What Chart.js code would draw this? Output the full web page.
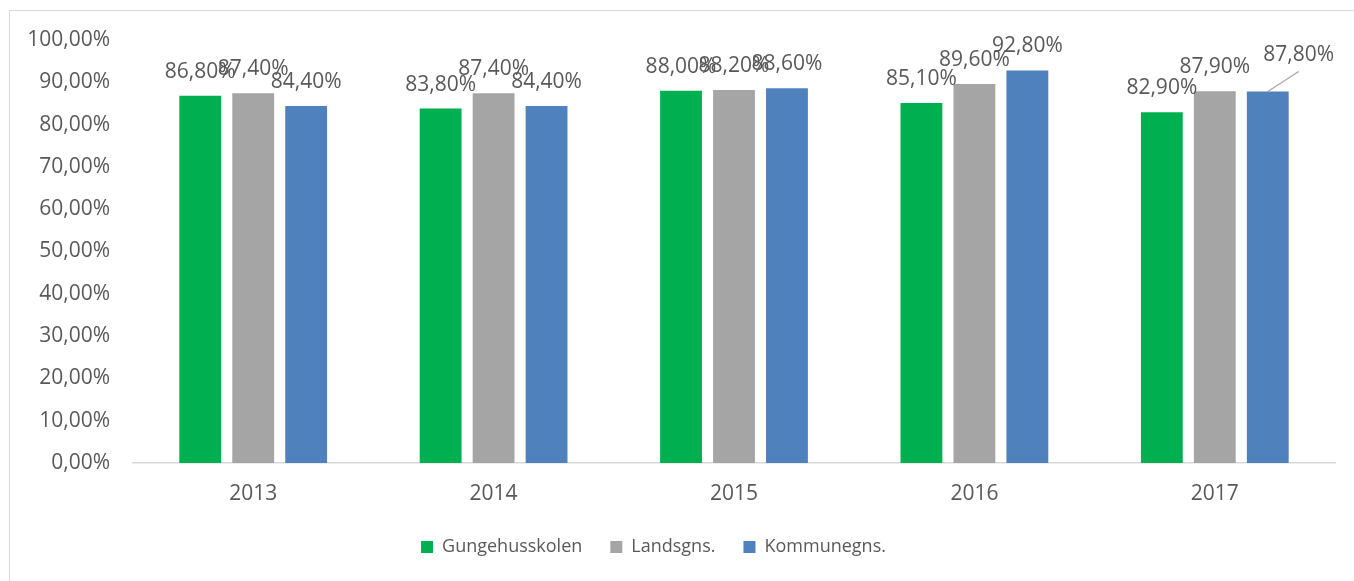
<!DOCTYPE html>
<html>
<head>
<meta charset="utf-8">
<script src="https://cdn.jsdelivr.net/npm/chart.js@4/dist/chart.umd.min.js"></script>
<style>
  html, body { margin: 0; padding: 0; background: #ffffff; }
  body { width: 1354px; height: 581px; position: relative; overflow: hidden; }
  #frame { position: absolute; left: 9px; top: 10px; width: 1400px; height: 640px; border: 1px solid #d9d9d9; box-sizing: border-box; }
  #wrap { position: absolute; left: 0; top: 0; width: 1354px; height: 581px; }
</style>
</head>
<body>
<div id="frame"></div>
<div id="wrap"><canvas id="c" width="1354" height="581"></canvas></div>
<script>
const categories = ['2013', '2014', '2015', '2016', '2017'];
const seriesNames = ['Gungehusskolen', 'Landsgns.', 'Kommunegns.'];
const gungehusskolen = [86.8, 83.8, 88.0, 85.1, 82.9];
const landsgns = [87.4, 87.4, 88.2, 89.6, 87.9];
const kommunegns = [84.4, 84.4, 88.6, 92.8, 87.8];
const yTickValues = [0, 10, 20, 30, 40, 50, 60, 70, 80, 90, 100];

const colors = ['#00b050', '#a5a5a5', '#4f81bd'];
const textColor = '#595959';
const fontFamily = "'Open Sans', 'DejaVu Sans', sans-serif";

function fmtPct(v) { return v.toFixed(2).replace('.', ',') + '%'; }

// Label adjustments (moved labels with leader line), kept separate from data
const labelMoves = [{ dataset: 2, index: 4, dx: 31, dy: -13 }];

const dataLabelPlugin = {
  id: 'dataLabels',
  afterDatasetsDraw(chart) {
    const ctx = chart.ctx;
    ctx.save();
    ctx.font = '21px ' + fontFamily;
    ctx.fillStyle = textColor;
    ctx.textAlign = 'center';
    ctx.textBaseline = 'alphabetic';
    chart.data.datasets.forEach((ds, di) => {
      const meta = chart.getDatasetMeta(di);
      meta.data.forEach((bar, i) => {
        const v = ds.data[i];
        const mv = labelMoves.find(m => m.dataset === di && m.index === i);
        let x = bar.x, y = bar.y - 18;
        if (mv) {
          x += mv.dx; y += mv.dy;
          ctx.save();
          ctx.strokeStyle = '#a6a6a6';
          ctx.lineWidth = 1.2;
          ctx.beginPath();
          ctx.moveTo(bar.x, bar.y);
          ctx.lineTo(x, y + 11);
          ctx.stroke();
          ctx.restore();
        }
        ctx.fillText(fmtPct(v), x, y);
      });
    });
    ctx.restore();
  }
};

const legendShift = {
  id: 'legendShift',
  afterLayout(chart) {
    const lg = chart.legend;
    if (!lg) return;
    const dx = -14;
    lg.left += dx; lg.right += dx;
    const newTop = 510;
    const h = lg.bottom - lg.top;
    lg.top = newTop; lg.bottom = newTop + h;
  }
};

new Chart(document.getElementById('c'), {
  type: 'bar',
  data: {
    labels: categories,
    datasets: [
      { label: seriesNames[0], data: gungehusskolen, backgroundColor: colors[0] },
      { label: seriesNames[1], data: landsgns, backgroundColor: colors[1] },
      { label: seriesNames[2], data: kommunegns, backgroundColor: colors[2] }
    ]
  },
  options: {
    responsive: false,
    animation: false,
    devicePixelRatio: 1,
    categoryPercentage: 0.661,
    barPercentage: 0.79,
    layout: { padding: { left: 0, right: 19, top: 40, bottom: 0 } },
    plugins: {
      legend: {
        position: 'bottom',
        labels: {
          boxWidth: 12, boxHeight: 12, padding: 28,
          color: textColor,
          font: { family: fontFamily, size: 18 }
        }
      },
      tooltip: { enabled: false }
    },
    scales: {
      x: {
        grid: { display: false, drawTicks: false },
        border: { display: true, color: '#d9d9d9', width: 1.5 },
        ticks: { color: textColor, font: { family: fontFamily, size: 21 }, padding: 18 },
        afterFit(s) { s.height = 62; }
      },
      y: {
        min: 0, max: 100,
        grid: { display: false, drawTicks: false },
        border: { display: false },
        afterBuildTicks(s) { s.ticks = yTickValues.map(v => ({ value: v })); },
        ticks: {
          color: textColor, font: { family: fontFamily, size: 21 }, padding: 23,
          callback: (v) => fmtPct(v)
        },
        afterFit(s) { s.width = 133; }
      }
    }
  },
  plugins: [dataLabelPlugin, legendShift]
});
</script>
</body>
</html>
